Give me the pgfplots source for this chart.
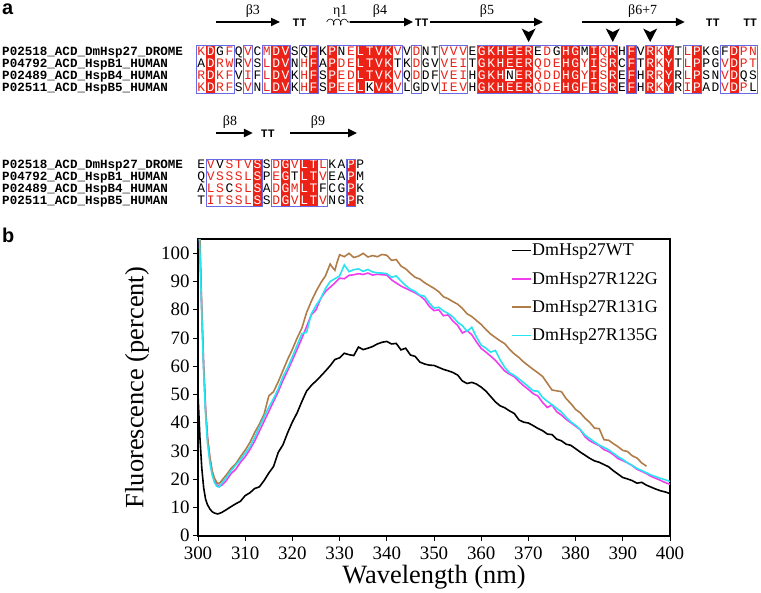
\documentclass[border=0pt]{standalone}
\usepackage{fontspec}
\setmainfont{Liberation Serif}
\newfontfamily\monof{Liberation Mono}
\newfontfamily\sansf{Liberation Sans}
\usepackage{pgfplots}
\pgfplotsset{compat=1.18}
\usetikzlibrary{arrows.meta,decorations.pathmorphing}
\definecolor{esred}{RGB}{236,34,22}
\definecolor{esblue}{RGB}{105,105,230}
\definecolor{cmag}{RGB}{238,62,238}
\definecolor{cbrown}{RGB}{176,124,72}
\definecolor{ccyan}{RGB}{40,228,240}
\newcommand{\resfont}{\monof\fontsize{13}{13}\selectfont}
\newcommand{\namefont}{\monof\bfseries\fontsize{12.6}{13}\selectfont}
\newcommand{\cell}[4]{%
  \if#4f%
    \fill[esred] (axis cs:#1-0.5,#2-5.93) rectangle (axis cs:#1+0.5,#2+5.93);%
    \node[anchor=base,text=white,font=\resfont,inner sep=0pt] at (axis cs:#1,#2+4) {#3};%
  \else\if#4r%
    \node[anchor=base,text=esred,font=\resfont,inner sep=0pt] at (axis cs:#1,#2+4) {#3};%
  \else
    \node[anchor=base,text=black,font=\resfont,inner sep=0pt] at (axis cs:#1,#2+4) {#3};%
  \fi\fi}
\newcommand{\seqrow}[2]{%
  \foreach \l/\c [count=\i] in {#2} {%
    \edef\tmp{\noexpand\cell{\i}{#1}{\l}{\c}}\tmp}}
\newcommand{\frm}[4]{\draw[esblue,line width=0.8bp] (axis cs:#1-0.5,#3) rectangle (axis cs:#2+0.5,#4);}
\newcommand{\chev}[1]{\fill[black] (axis cs:#1-0.75,28.5) -- (axis cs:#1,42) -- (axis cs:#1+0.75,28.5) -- (axis cs:#1,32) -- cycle;}
\newcommand{\ssarrow}[3]{\draw[line width=2.2bp,-{Triangle[length=9bp,width=8bp]}] (axis cs:#1,#3) -- (axis cs:#2,#3);}
\tikzset{sslab/.style={font=\fontsize{14}{14}\selectfont,inner sep=0pt},
  tt/.style={font=\monof\bfseries\fontsize{11.5}{11.5}\selectfont,inner sep=0pt}}
\begin{document}
\begin{tikzpicture}
\useasboundingbox (0,0) rectangle (761bp,593bp);
% ---------------- panel a ----------------
\begin{axis}[at={(0,0)},anchor=south west,scale only axis,width=761bp,height=593bp,
  hide axis,xmin=-20.537,xmax=60.853,ymin=0,ymax=593,y dir=reverse,clip=false]
\node[anchor=base west,font=\sansf\bfseries\fontsize{20}{20}\selectfont,inner sep=0pt] at (axis cs:-20.32,14.5) {a};
\node[anchor=base west,font=\sansf\bfseries\fontsize{20}{20}\selectfont,inner sep=0pt] at (axis cs:-20.32,243) {b};
% secondary structure block 1
\ssarrow{2.56}{9.41}{22}
\node[sslab] at (axis cs:6.5,11) {β3};
\node[tt] at (axis cs:11.5,23) {TT};
\node[sslab] at (axis cs:15.86,11) {η1};
\draw[line width=0.6bp,decorate,decoration={coil,aspect=0.6,segment length=7bp,amplitude=3bp}] (axis cs:14.4,22) -- (axis cs:16.9,22);
\ssarrow{16.9}{23.65}{22}
\node[sslab] at (axis cs:20.1,11) {β4};
\node[tt] at (axis cs:24.56,23) {TT};
\ssarrow{25.45}{37.54}{22}
\node[sslab] at (axis cs:31.55,11) {β5};
\ssarrow{41.7}{52.7}{22}
\node[sslab] at (axis cs:48.2,11) {β6+7};
\node[tt] at (axis cs:55.7,23) {TT};
\node[tt] at (axis cs:59.7,23) {TT};
\chev{36}\chev{45}\chev{49}
% fills and letters block 1
\seqrow{51.7}{K/r,D/f,G/k,F/r,Q/k,V/r,C/k,M/r,D/f,V/f,S/k,Q/k,F/f,K/k,P/f,N/k,E/r,L/f,T/f,V/f,K/f,V/r,V/k,D/r,N/k,T/k,V/r,V/r,V/r,E/k,G/f,K/f,H/f,E/f,E/f,R/f,E/k,D/r,G/k,H/f,G/f,M/k,I/f,Q/r,R/f,H/k,F/f,V/k,R/f,K/r,Y/f,T/k,L/r,P/f,K/k,G/k,F/k,D/f,P/r,N/r}
\seqrow{63.55}{A/k,D/f,R/r,W/r,R/k,V/r,S/k,L/r,D/f,V/f,N/k,H/r,F/f,A/k,P/f,D/r,E/r,L/f,T/f,V/f,K/f,T/k,K/k,D/r,G/k,V/k,V/r,E/r,I/r,T/k,G/f,K/f,H/f,E/f,E/f,R/f,Q/r,D/r,E/r,H/f,G/f,Y/r,I/f,S/r,R/f,C/k,F/f,T/k,R/f,K/r,Y/f,T/k,L/r,P/f,P/k,G/k,V/r,D/f,P/r,T/r}
\seqrow{75.4}{R/r,D/f,K/r,F/r,V/k,I/r,F/k,L/r,D/f,V/f,K/k,H/r,F/f,S/k,P/f,E/r,D/r,L/f,T/f,V/f,K/f,V/r,Q/k,D/r,D/k,F/k,V/r,E/r,I/r,H/k,G/f,K/f,H/f,N/k,E/f,R/f,Q/r,D/r,D/r,H/f,G/f,Y/r,I/f,S/r,R/f,E/k,F/f,H/k,R/f,R/r,Y/f,R/k,L/r,P/f,S/k,N/k,V/r,D/f,Q/k,S/k}
\seqrow{87.25}{K/r,D/f,R/r,F/r,S/k,V/r,N/k,L/r,D/f,V/f,K/k,H/r,F/f,S/k,P/f,E/r,E/r,L/f,K/k,V/f,K/f,V/r,L/k,G/k,D/k,V/k,I/r,E/r,V/r,H/k,G/f,K/f,H/f,E/f,E/f,R/f,Q/r,D/r,E/r,H/f,G/f,F/r,I/f,S/r,R/f,E/k,F/f,H/k,R/f,K/r,Y/f,R/k,I/r,P/f,A/k,D/k,V/r,D/f,P/r,L/k}
\frm{1}{4}{45.77}{93.18}\frm{6}{6}{45.77}{93.18}\frm{8}{10}{45.77}{93.18}
\frm{12}{13}{45.77}{93.18}\frm{15}{22}{45.77}{93.18}\frm{24}{24}{45.77}{93.18}
\frm{27}{29}{45.77}{93.18}\frm{31}{45}{45.77}{93.18}\frm{47}{47}{45.77}{93.18}
\frm{49}{51}{45.77}{93.18}\frm{53}{54}{45.77}{93.18}\frm{57}{60}{45.77}{93.18}
\node[anchor=base west,font=\namefont,inner sep=0pt] at (axis cs:-20.32,55.7) {P02518\_ACD\_DmHsp27\_DROME};
\node[anchor=base west,font=\namefont,inner sep=0pt] at (axis cs:-20.32,67.55) {P04792\_ACD\_HspB1\_HUMAN};
\node[anchor=base west,font=\namefont,inner sep=0pt] at (axis cs:-20.32,79.4) {P02489\_ACD\_HspB4\_HUMAN};
\node[anchor=base west,font=\namefont,inner sep=0pt] at (axis cs:-20.32,91.25) {P02511\_ACD\_HspB5\_HUMAN};
% block 2
\ssarrow{2.56}{6.5}{133}
\node[sslab] at (axis cs:4.06,122) {β8};
\node[tt] at (axis cs:8.1,134) {TT};
\ssarrow{10.48}{17.65}{133}
\node[sslab] at (axis cs:13.47,122) {β9};
\seqrow{165}{E/k,V/r,V/k,S/r,T/r,V/r,S/f,S/k,D/r,G/f,V/r,L/f,T/f,L/r,K/k,A/k,P/f,P/k}
\seqrow{176.85}{Q/k,V/r,S/r,S/r,S/r,L/r,S/f,P/k,E/r,G/f,T/k,L/f,T/f,V/r,E/k,A/k,P/f,M/k}
\seqrow{188.7}{A/k,L/r,S/r,C/k,S/r,L/r,S/f,A/k,D/r,G/f,M/r,L/f,T/f,F/k,C/k,G/k,P/f,K/k}
\seqrow{200.55}{T/k,I/r,T/r,S/r,S/r,L/r,S/f,S/k,D/r,G/f,V/r,L/f,T/f,V/r,N/k,G/k,P/f,R/k}
\frm{2}{7}{159.07}{206.48}\frm{9}{14}{159.07}{206.48}\frm{17}{17}{159.07}{206.48}
\node[anchor=base west,font=\namefont,inner sep=0pt] at (axis cs:-20.32,169) {P02518\_ACD\_DmHsp27\_DROME};
\node[anchor=base west,font=\namefont,inner sep=0pt] at (axis cs:-20.32,180.85) {P04792\_ACD\_HspB1\_HUMAN};
\node[anchor=base west,font=\namefont,inner sep=0pt] at (axis cs:-20.32,192.7) {P02489\_ACD\_HspB4\_HUMAN};
\node[anchor=base west,font=\namefont,inner sep=0pt] at (axis cs:-20.32,204.55) {P02511\_ACD\_HspB5\_HUMAN};
\end{axis}
% ---------------- panel b ----------------
\begin{axis}[at={(198bp,57.3bp)},anchor=south west,scale only axis,width=472bp,height=296.5bp,
  xmin=300,xmax=400,ymin=0,ymax=105,
  xtick={300,310,...,400},ytick={0,10,...,100},
  tick pos=left,tick align=outside,major tick length=5bp,
  tick style={black,line width=1bp},
  axis line style={line width=1.8bp},
  /pgf/number format/assume math mode=true,
  ticklabel style={font=\fontsize{19}{19}\selectfont},
  xticklabel style={yshift=-3bp},
  xlabel={Wavelength (nm)},ylabel={Fluorescence (percent)},
  label style={font=\fontsize{26.5}{26.5}\selectfont},
  xlabel style={at={(axis description cs:0.5,-0.14)},anchor=center},
  ylabel style={at={(axis description cs:-0.129,0.5)},anchor=center},
  every axis plot/.append style={line width=1.6bp,no markers},
  legend image code/.code={\draw[line width=1.6bp,#1] (0bp,0bp) -- (19bp,0bp);},
  legend cell align=left,
  legend style={at={(axis description cs:0.663,0.985)},anchor=north west,draw=none,fill=none,
    font=\fontsize{18}{18}\selectfont,inner sep=0pt,row sep=15bp,
    nodes={inner xsep=0.5bp,inner ysep=0pt},
    /tikz/every odd column/.append style={column sep=0bp}},
]
\addplot[black] coordinates {(300,50) (300.4,35) (300.8,24) (301.2,17) (301.6,13) (302,11) (302.5,9.5) (303,8.5) (303.5,8) (304.2,7.7) (305,8.2) (306,9.2) (307,10.3) (308,11.3) (309,12.2) (310,14.2) (311,15.2) (312,16.7) (313,17.3) (314,19.5) (315,22.2) (316,24.5) (317,29.5) (318,32.2) (319,36.5) (320,40.3) (321,43.5) (322,47.5) (323,51.2) (324,53.2) (325,54.8) (326,56.5) (327,58.3) (328,60.2) (329,62.4) (330,63.0) (331,64.6) (332,64.1) (333,63.8) (334,66.8) (335,65.9) (336,66.4) (337,67.0) (338,67.9) (339,68.5) (340,68.8) (341,67.9) (342,68.1) (343,65.8) (344,66.4) (345,64.0) (346,63.5) (347,61.5) (348,60.8) (349,60.4) (350,60.3) (351,59.6) (352,58.9) (353,58.4) (354,57.8) (355,56.9) (356,54.8) (357,53.9) (358,54.3) (359,53.7) (360,52.6) (361,51.2) (362,49.3) (363,47.4) (364,46.0) (365,45.3) (366,44.2) (367,43.3) (368,41.0) (369,40.2) (370,39.9) (371,39.0) (372,38.0) (373,37.2) (374,36.0) (375,35.8) (376,34.2) (377,33.6) (378,32.4) (379,32.0) (380,30.8) (381,29.6) (382,28.5) (383,27.4) (384,26.5) (385,26.0) (386,25.2) (387,24.4) (388,23.0) (389,21.8) (390,20.6) (391,20.1) (392,19.5) (393,18.6) (394,18.9) (395,17.9) (396,17.2) (397,16.5) (398,15.9) (399,15.5) (400,14.9)};
\addlegendentry{DmHsp27WT}
\addplot[cmag] coordinates {(300,150) (300.3,106) (300.8,80) (301.2,60) (301.6,45) (302,35) (302.5,27.5) (303,22.5) (303.5,19.5) (304,18) (304.5,17.5) (305,17.8) (306,19.5) (307,22) (308,23.5) (309,26) (310,28) (311,30.5) (312,33.5) (313,37) (314,40.5) (315,44) (316,47.5) (317,51) (318,55) (319,58.5) (320,62.2) (321,66) (322,69.9) (323,74) (324,78.2) (325,80) (326,84) (327,86.5) (328,88) (329,89.5) (330,91.2) (331,91.0) (332,92.2) (333,92.4) (334,92.8) (335,92.5) (336,93.0) (337,92.3) (338,92.6) (339,92.4) (340,92.3) (341,90.6) (342,89.5) (343,88.4) (344,87.6) (345,86.8) (346,86.0) (347,85.0) (348,83.6) (349,81.2) (350,79.7) (351,80.0) (352,77.9) (353,78.2) (354,76.0) (355,74.5) (356,71.8) (357,72.6) (358,71.2) (359,68.6) (360,66.3) (361,65.0) (362,63.6) (363,62.1) (364,60.2) (365,58.3) (366,57.2) (367,56.3) (368,54.6) (369,53.1) (370,51.8) (371,50.3) (372,49.5) (373,47.2) (374,45.4) (375,46.3) (376,43.9) (377,42.7) (378,41.2) (379,40.0) (380,38.8) (381,37.5) (382,35.0) (383,33.6) (384,32.7) (385,31.9) (386,30.5) (387,29.8) (388,28.7) (389,27.3) (390,26.6) (391,25.8) (392,24.8) (393,23.5) (394,22.8) (395,22.0) (396,21.0) (397,20.3) (398,19.6) (399,18.8) (400,18.2)};
\addlegendentry{DmHsp27R122G}
\addplot[cbrown] coordinates {(300,150) (300.4,106) (300.8,80) (301.2,60) (301.6,45) (302,35) (302.5,28) (303,23) (303.5,20.3) (304,18.8) (304.5,18.4) (305,19.5) (306,21.5) (307,23.8) (308,25.5) (309,28) (310,30.3) (311,33) (312,36.5) (313,39.5) (314,43) (315,49.5) (316,51) (317,54.5) (318,58.5) (319,62.5) (320,66) (321,70) (322,73.5) (323,79) (324,83) (325,86.5) (326,89.5) (327,92) (328,96.2) (328.5,95) (329,94) (329.5,97) (330,99.5) (331,98.8) (332,100) (333,98.5) (334,99) (335,100) (336,98.7) (337,99.2) (338,98.8) (339,99.6) (340,99.3) (341,97.5) (342,97.8) (343,95.5) (344,94.5) (345,92.9) (346,91.5) (347,90.9) (348,89.6) (349,88.6) (350,87.6) (351,86.4) (352,84.6) (353,83.9) (354,82.9) (355,82.0) (356,80.5) (357,78.6) (358,77.6) (359,76.2) (360,74.8) (361,73.0) (362,71.4) (363,70.2) (364,69.0) (365,68.0) (366,66.0) (367,64.4) (368,63.1) (369,61.5) (370,60.2) (371,58.9) (372,57.7) (373,56.4) (374,54.0) (375,51.6) (376,51.3) (377,51.0) (378,48.5) (379,46.8) (380,44.7) (381,43.5) (382,41.6) (383,40.1) (384,38.1) (385,37.9) (386,34.0) (387,33.8) (388,32.6) (389,31.5) (390,30.2) (391,29.8) (392,28.3) (393,27.5) (394,25.8) (395,24.6)};
\addlegendentry{DmHsp27R131G}
\addplot[ccyan] coordinates {(300,150) (300.3,106) (300.8,78) (301.2,58) (301.6,43) (302,33) (302.5,26) (303,21.5) (303.5,18.8) (304,17.5) (304.5,17.2) (305,18.5) (306,20.5) (307,23) (308,25) (309,27) (310,29.2) (311,31.5) (312,34.8) (313,38.5) (314,42) (315,45.5) (316,48.5) (317,52) (318,56.3) (319,59.5) (320,63.4) (321,67.5) (322,71.5) (323,72) (324,78.5) (325,81.5) (326,84) (327,87.5) (328,90) (329,91) (330,92) (331,95.9) (332,93.5) (333,94.2) (334,94.5) (335,93.6) (336,94.3) (337,93.4) (338,93.1) (339,93.0) (340,92.8) (341,91.5) (342,92.0) (343,90.2) (344,88.6) (345,87.3) (346,86.5) (347,85.2) (348,84.8) (349,82.4) (350,80.6) (351,80.9) (352,79.6) (353,78.7) (354,77.5) (355,75.6) (356,74.4) (357,72.4) (358,73.8) (359,70.3) (360,67.5) (361,66.4) (362,65.0) (363,65.6) (364,62.3) (365,59.6) (366,57.7) (367,56.8) (368,55.5) (369,54.2) (370,52.8) (371,51.3) (372,51.2) (373,49.0) (374,47.6) (375,46.4) (376,45.1) (377,43.8) (378,41.9) (379,40.3) (380,39.1) (381,37.6) (382,35.6) (383,34.4) (384,33.2) (385,32.1) (386,31.3) (387,30.4) (388,29.2) (389,28.0) (390,27.0) (391,25.8) (392,24.9) (393,23.8) (394,23.1) (395,22.3) (396,21.5) (397,20.9) (398,20.3) (399,19.8) (400,19.2)};
\addlegendentry{DmHsp27R135G}
\end{axis}
\end{tikzpicture}
\end{document}
